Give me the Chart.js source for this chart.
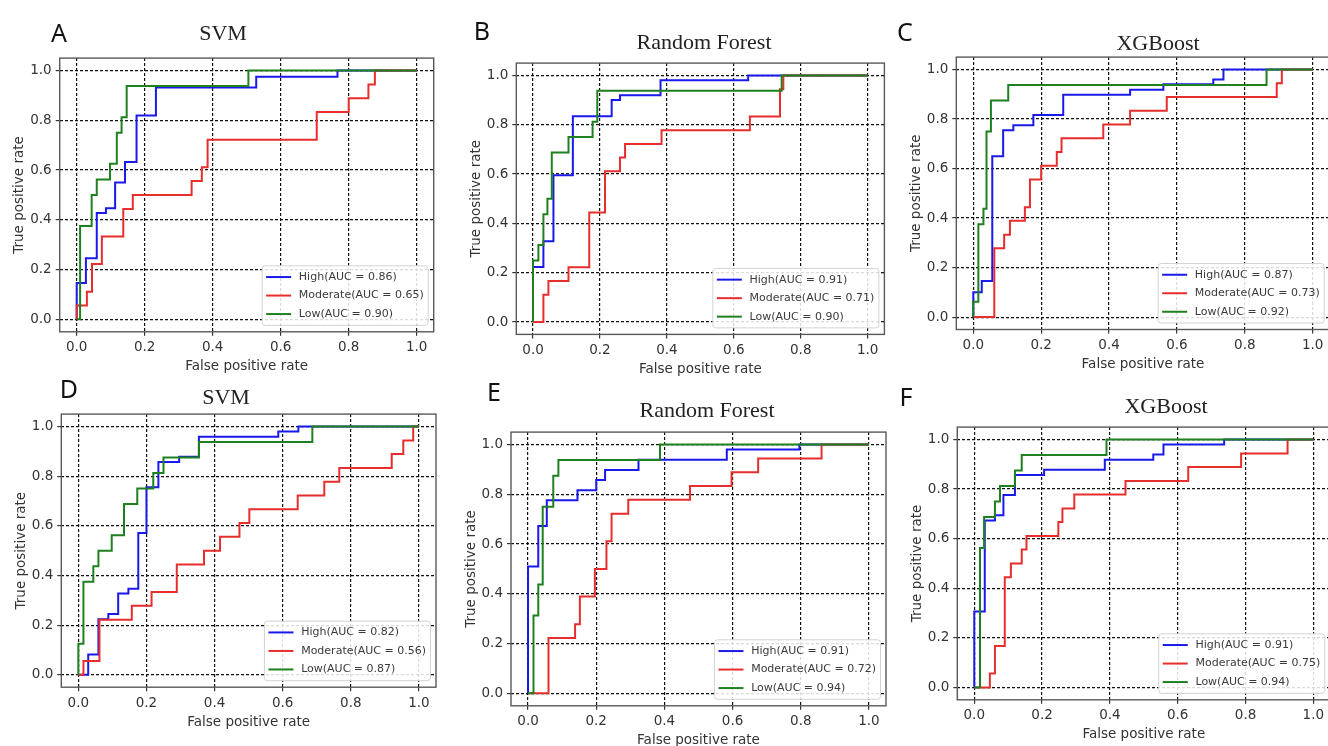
<!DOCTYPE html>
<html>
<head>
<meta charset="utf-8">
<script src="https://cdn.jsdelivr.net/npm/chart.js@4.4.0/dist/chart.umd.min.js"></script>
<style>
html, body { margin: 0; padding: 0; background: #fff; width: 1328px; height: 746px; overflow: hidden; position: relative; }
canvas { position: absolute; }
.lbl { position: absolute; transform: translate(-50%, -50%); white-space: nowrap; line-height: 1; }
.letter { font-family: 'Noto Sans', 'Open Sans', sans-serif; font-size: 25px; color: #111; }
.ttl { font-family: 'Liberation Serif', 'Times New Roman', serif; font-size: 22px; color: #222; }
</style>
</head>
<body>
<script>
// ---- data ----
const classNames = ['High', 'Moderate', 'Low'];
const tickVals = [0, 0.2, 0.4, 0.6, 0.8, 1.0];
const panelLetters = ['A', 'B', 'C', 'D', 'E', 'F'];
const modelTitles = ['SVM', 'Random Forest', 'XGBoost', 'SVM', 'Random Forest', 'XGBoost'];

// AUC per panel: [High, Moderate, Low]
const aucA = [0.86, 0.65, 0.90];
const aucB = [0.91, 0.71, 0.90];
const aucC = [0.87, 0.73, 0.92];
const aucD = [0.82, 0.56, 0.87];
const aucE = [0.91, 0.72, 0.94];
const aucF = [0.91, 0.75, 0.94];

// ROC points [fpr, tpr] (step drawn horizontal first, then vertical)
const rocA_high = [[0,0],[0,0.146],[0.027,0.246],[0.059,0.427],[0.086,0.447],[0.113,0.55],[0.142,0.632],[0.176,0.819],[0.233,0.932],[0.528,0.975],[0.767,1],[1,1]];
const rocA_mod  = [[0,0],[0,0.056],[0.03,0.111],[0.045,0.222],[0.074,0.333],[0.137,0.444],[0.165,0.5],[0.338,0.556],[0.368,0.611],[0.385,0.722],[0.706,0.833],[0.8,0.889],[0.858,0.944],[0.877,1],[1,1]];
const rocA_low  = [[0,0],[0.01,0.375],[0.044,0.5],[0.059,0.5625],[0.098,0.625],[0.118,0.75],[0.132,0.8125],[0.147,0.9375],[0.505,1],[1,1]];

const rocB_high = [[0,0],[0,0.223],[0.031,0.328],[0.061,0.595],[0.119,0.835],[0.235,0.9],[0.26,0.92],[0.381,0.98],[0.643,1],[1,1]];
const rocB_mod  = [[0,0],[0.031,0.111],[0.046,0.167],[0.106,0.222],[0.168,0.444],[0.215,0.611],[0.26,0.667],[0.275,0.722],[0.384,0.778],[0.648,0.833],[0.738,0.944],[0.748,1],[1,1]];
const rocB_low  = [[0,0],[0,0.25],[0.016,0.3125],[0.031,0.4375],[0.043,0.5],[0.056,0.6875],[0.106,0.75],[0.178,0.8125],[0.192,0.9375],[0.743,1],[1,1]];

const rocC_high = [[0,0],[0,0.1],[0.025,0.146],[0.056,0.65],[0.088,0.755],[0.118,0.775],[0.177,0.816],[0.265,0.898],[0.462,0.918],[0.56,0.94],[0.707,0.96],[0.737,1],[1,1]];
const rocC_mod  = [[0,0],[0.062,0.278],[0.091,0.333],[0.108,0.389],[0.152,0.444],[0.167,0.556],[0.2,0.611],[0.246,0.667],[0.26,0.722],[0.383,0.778],[0.462,0.833],[0.57,0.889],[0.894,0.944],[0.909,1],[1,1]];
const rocC_low  = [[0,0],[0,0.0625],[0.015,0.375],[0.03,0.4375],[0.039,0.75],[0.052,0.875],[0.103,0.9375],[0.864,1],[1,1]];

const rocD_high = [[0,0],[0.029,0.082],[0.059,0.224],[0.088,0.245],[0.117,0.327],[0.147,0.347],[0.176,0.571],[0.2,0.755],[0.235,0.857],[0.296,0.878],[0.354,0.959],[0.587,0.98],[0.646,1],[1,1]];
const rocD_mod  = [[0,0],[0.015,0.056],[0.062,0.222],[0.157,0.278],[0.215,0.333],[0.289,0.444],[0.369,0.5],[0.416,0.556],[0.473,0.611],[0.502,0.667],[0.644,0.722],[0.722,0.778],[0.766,0.833],[0.92,0.889],[0.954,0.944],[0.983,1],[1,1]];
const rocD_low  = [[0,0],[0,0.125],[0.015,0.375],[0.044,0.4375],[0.059,0.5],[0.098,0.5625],[0.134,0.6875],[0.173,0.75],[0.22,0.8125],[0.25,0.875],[0.354,0.9375],[0.687,1],[1,1]];

const rocE_high = [[0,0],[0,0.51],[0.03,0.673],[0.055,0.776],[0.145,0.816],[0.2,0.857],[0.226,0.898],[0.324,0.939],[0.583,0.98],[0.796,1],[1,1]];
const rocE_mod  = [[0,0],[0.06,0.222],[0.138,0.278],[0.152,0.389],[0.196,0.5],[0.23,0.611],[0.245,0.722],[0.294,0.778],[0.475,0.833],[0.597,0.889],[0.675,0.944],[0.861,1],[1,1]];
const rocE_low  = [[0,0],[0.016,0.3125],[0.03,0.4375],[0.043,0.75],[0.074,0.875],[0.089,0.9375],[0.387,1],[1,1]];

const rocF_high = [[0,0],[0,0.306],[0.031,0.673],[0.061,0.694],[0.086,0.776],[0.12,0.857],[0.206,0.878],[0.385,0.918],[0.528,0.939],[0.558,0.98],[0.737,1],[1,1]];
const rocF_mod  = [[0,0],[0.046,0.056],[0.061,0.167],[0.09,0.444],[0.108,0.5],[0.14,0.556],[0.154,0.611],[0.248,0.667],[0.26,0.722],[0.295,0.778],[0.446,0.833],[0.631,0.889],[0.787,0.944],[0.924,1],[1,1]];
const rocF_low  = [[0,0],[0.017,0.5625],[0.029,0.6875],[0.061,0.75],[0.076,0.8125],[0.12,0.875],[0.14,0.9375],[0.39,1],[1,1]];

const panelCurves = [
  [rocA_high, rocA_mod, rocA_low],
  [rocB_high, rocB_mod, rocB_low],
  [rocC_high, rocC_mod, rocC_low],
  [rocD_high, rocD_mod, rocD_low],
  [rocE_high, rocE_mod, rocE_low],
  [rocF_high, rocF_mod, rocF_low]
];
const panelAuc = [aucA, aucB, aucC, aucD, aucE, aucF];

// ---- layout (page pixels) ----
const lineColors = ['rgb(25,25,235)', 'rgb(232,45,45)', 'rgb(30,128,30)'];
// plot frame of each panel: left, top, right, bottom
const frames = [
  [59.7, 56.5, 433.7, 331.8],
  [516.3, 61.3, 884.4, 334.4],
  [956.3, 55.2, 1329.7, 329.5],
  [61.3, 412.2, 436.0, 687.2],
  [511.0, 430.5, 886.0, 705.8],
  [957.3, 425.2, 1330.3, 699.8]
];
const letterPos = [[59, 32], [482, 30], [905, 31], [69, 388], [494, 391], [906, 396]];
const titlePos = [[223, 33], [704, 42], [1158, 43], [226, 397], [707, 410], [1166, 406]];

const FONT = 13.5;
const LH = FONT * 1.2;
const W_Y = 40 + LH / 2;
const H_X = 35 + LH / 2;

Chart.defaults.font.family = "'DejaVu Sans', sans-serif";
Chart.defaults.color = '#333';

const framePlugin = {
  id: 'frame',
  afterDatasetsDraw(chart) {
    const { ctx, chartArea: ca } = chart;
    ctx.save();
    ctx.strokeStyle = '#595959';
    ctx.lineWidth = 1.4;
    ctx.strokeRect(ca.left, ca.top, ca.right - ca.left, ca.bottom - ca.top);
    ctx.restore();
  }
};

const legendPlugin = {
  id: 'rocLegend',
  afterDatasetsDraw(chart) {
    const { ctx, chartArea: ca } = chart;
    const ds = chart.data.datasets;
    ctx.save();
    ctx.font = "11px 'DejaVu Sans'";
    const tw = Math.max(...ds.map(d => ctx.measureText(d.label).width));
    const rowH = 18.5;
    const w = 4 + 25 + 7.7 + tw + 4.5;
    const h = ds.length * rowH + 4;
    const x = ca.right - 5.5 - w;
    const y = ca.bottom - 6.5 - h;
    ctx.beginPath();
    ctx.roundRect(x, y, w, h, 3);
    ctx.fillStyle = 'rgba(255,255,255,0.85)';
    ctx.fill();
    ctx.strokeStyle = '#d3d3d3';
    ctx.lineWidth = 1;
    ctx.stroke();
    ds.forEach((d, i) => {
      const cy = y + 2 + rowH * (i + 0.5);
      ctx.strokeStyle = d.borderColor;
      ctx.lineWidth = 2;
      ctx.beginPath();
      ctx.moveTo(x + 4, cy);
      ctx.lineTo(x + 29, cy);
      ctx.stroke();
      ctx.fillStyle = '#3a3a3a';
      ctx.textBaseline = 'middle';
      ctx.textAlign = 'left';
      ctx.fillText(d.label, x + 36.7, cy);
    });
    ctx.restore();
  }
};

function makeAxis(title, isX) {
  return {
    type: 'linear',
    min: -0.05,
    max: 1.05,
    afterBuildTicks: s => { s.ticks = tickVals.map(v => ({ value: v })); },
    afterFit: s => { if (isX) s.height = H_X; else s.width = W_Y; },
    grid: { color: '#111', lineWidth: 1.2, tickLength: 4, tickColor: '#333', drawTicks: true },
    border: { display: false, dash: [3, 2] },
    ticks: { padding: 4, color: '#333', font: { size: FONT }, autoSkip: false, maxRotation: 0,
             callback: v => Number(v).toFixed(1) },
    title: { display: true, text: title, color: '#333', font: { size: FONT }, padding: 0 }
  };
}

function addText(cls, text, pos) {
  const d = document.createElement('div');
  d.className = 'lbl ' + cls;
  d.textContent = text;
  d.style.left = pos[0] + 'px';
  d.style.top = pos[1] + 'px';
  document.body.appendChild(d);
}

frames.forEach((f, p) => {
  const [L, T, R, B] = f;
  const cLeft = Math.floor(L - W_Y);
  const cTop = Math.floor(T - 10);
  const cRight = Math.ceil(R + 8);
  const cBottom = Math.ceil(B + H_X);
  const cv = document.createElement('canvas');
  cv.width = cRight - cLeft;
  cv.height = cBottom - cTop;
  cv.style.left = cLeft + 'px';
  cv.style.top = cTop + 'px';
  cv.style.width = cv.width + 'px';
  cv.style.height = cv.height + 'px';
  document.body.appendChild(cv);

  // later classes are drawn on top, as in the original plot
  const datasets = panelCurves[p].map((curve, i) => ({
    label: classNames[i] + '(AUC = ' + panelAuc[p][i].toFixed(2) + ')',
    data: curve.map(pt => ({ x: pt[0], y: pt[1] })),
    order: panelCurves[p].length - i,
    showLine: true,
    stepped: 'before',
    borderColor: lineColors[i],
    borderWidth: 2,
    pointRadius: 0,
    fill: false
  }));

  new Chart(cv, {
    type: 'scatter',
    data: { datasets: datasets },
    options: {
      responsive: false,
      animation: false,
      devicePixelRatio: 1,
      events: [],
      layout: {
        autoPadding: false,
        padding: { left: L - W_Y - cLeft, top: T - cTop, right: cRight - R, bottom: cBottom - (B + H_X) }
      },
      plugins: { legend: { display: false }, tooltip: { enabled: false }, title: { display: false } },
      scales: {
        x: makeAxis('False positive rate', true),
        y: makeAxis('True positive rate', false)
      }
    },
    plugins: [framePlugin, legendPlugin]
  });

  addText('letter', panelLetters[p], letterPos[p]);
  addText('ttl', modelTitles[p], titlePos[p]);
});
</script>
</body>
</html>
